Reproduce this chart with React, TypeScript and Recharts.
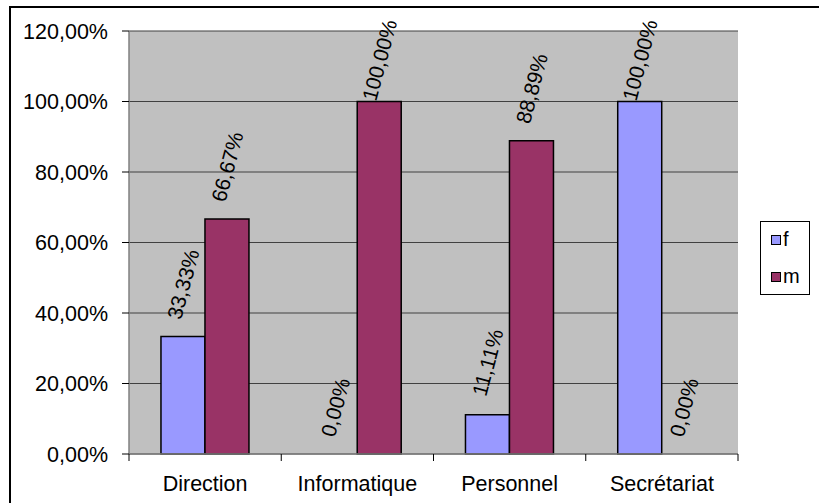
import React from 'react';
import { BarChart, Bar, XAxis, YAxis, CartesianGrid, ReferenceDot } from 'recharts';

const departments = ['Direction', 'Informatique', 'Personnel', 'Secrétariat'];
const femmes = [33.33, 0, 11.11, 100];
const hommes = [66.67, 100, 88.89, 0];
const yTicks = [0, 20, 40, 60, 80, 100, 120];

const SERIES = [
  { key: 'f', values: femmes, color: '#9999ff' },
  { key: 'm', values: hommes, color: '#993366' },
];

const W = 819;
const H = 503;
const MARGIN = { top: 31, right: 81, bottom: 0, left: 0 };
const Y_AXIS_W = 129;
const X_AXIS_H = 49;
const BAND = (W - MARGIN.right - Y_AXIS_W) / departments.length;
const CAT_GAP = 0.21;
const BAR_W = (BAND * (1 - 2 * CAT_GAP)) / SERIES.length;

const FONT = '"Liberation Sans", Arial, sans-serif';
const TICK_SIZE = 21.5;
const LABEL_SIZE = 21;
const ANGLE = 75;

const data = departments.map((name, i) => {
  const row: Record<string, string | number> = { name };
  SERIES.forEach((s) => (row[s.key] = s.values[i]));
  return row;
});

const fmt = (v: number) => v.toFixed(2).replace('.', ',') + '%';

// rough Arial advance widths, in em
const CHAR_W: Record<string, number> = { ',': 0.278, '%': 0.889 };
const textWidth = (s: string, size: number) =>
  s.split('').reduce((acc, c) => acc + (CHAR_W[c] ?? 0.556), 0) * size;

// rotated value label, sat above the top of its bar
function ValueLabel({ cx, top, value }: { cx: number; top: number; value: number }) {
  const text = fmt(value);
  const rad = (ANGLE * Math.PI) / 180;
  const half =
    (textWidth(text, LABEL_SIZE) * Math.sin(rad) + 0.72 * LABEL_SIZE * Math.cos(rad)) / 2;
  // keep the label inside the chart area (excel pushes the 100% ones down)
  const cy = Math.max(top - 16 - half, 18 + half);
  return (
    <text
      x={cx}
      y={cy}
      transform={`rotate(-${ANGLE} ${cx} ${cy})`}
      textAnchor="middle"
      dominantBaseline="central"
      fontFamily={FONT}
      fontSize={LABEL_SIZE}
      fill="#000"
    >
      {text}
    </text>
  );
}

function CategoryTick(props: any) {
  const { x, y, payload, index } = props;
  const last = index === departments.length - 1;
  return (
    <g>
      <line x1={x - BAND / 2} y1={y} x2={x - BAND / 2} y2={y + 7} stroke="#000" />
      {last && <line x1={x + BAND / 2} y1={y} x2={x + BAND / 2} y2={y + 7} stroke="#000" />}
      <text x={x} y={y + 37} textAnchor="middle" fontFamily={FONT} fontSize={TICK_SIZE} fill="#000">
        {payload.value}
      </text>
    </g>
  );
}

function Legend() {
  return (
    <div
      style={{
        position: 'absolute',
        left: 760,
        top: 221,
        width: 50,
        height: 74,
        boxSizing: 'border-box',
        border: '1px solid #000',
        background: '#fff',
        fontFamily: FONT,
        fontSize: 20,
        lineHeight: '20px',
      }}
    >
      {SERIES.map((s, i) => (
        <div key={s.key}>
          <div
            style={{
              position: 'absolute',
              left: 10,
              top: 13 + i * 37,
              width: 10,
              height: 10,
              boxSizing: 'border-box',
              border: '1.5px solid #000',
              background: s.color,
            }}
          />
          <span style={{ position: 'absolute', left: 22, top: 7 + i * 37, color: '#000' }}>
            {s.key}
          </span>
        </div>
      ))}
    </div>
  );
}

export default function App() {
  return (
    <div
      style={{
        position: 'absolute',
        left: 0,
        top: 0,
        width: W,
        height: H,
        overflow: 'hidden',
        background: '#fff',
      }}
    >
      <div
        style={{
          position: 'absolute',
          left: 9,
          top: 6,
          width: W + 20,
          height: H + 20,
          borderTop: '2px solid #000',
          borderLeft: '2px solid #000',
        }}
      />
      <div style={{ position: 'absolute', left: 0, top: 0 }}>
        <BarChart
          width={W}
          height={H}
          data={data}
          margin={MARGIN}
          barCategoryGap={`${CAT_GAP * 100}%`}
          barGap={0}
        >
          <CartesianGrid vertical={false} fill="#c0c0c0" stroke="#404040" strokeWidth={1.2} />
          <XAxis
            dataKey="name"
            height={X_AXIS_H}
            axisLine={{ stroke: '#808080', strokeWidth: 1.5 }}
            tickLine={false}
            tickSize={0}
            tickMargin={0}
            interval={0}
            tick={<CategoryTick />}
          />
          <YAxis
            width={Y_AXIS_W}
            domain={[0, 120]}
            ticks={yTicks}
            interval={0}
            tickFormatter={fmt}
            axisLine={{ stroke: '#808080', strokeWidth: 1.5 }}
            tickLine={{ stroke: '#000' }}
            tickSize={7}
            tickMargin={14}
            tick={{ fill: '#000', fontSize: TICK_SIZE, fontFamily: FONT }}
          />
          <YAxis
            yAxisId="frame"
            orientation="right"
            width={0}
            domain={[0, 120]}
            tick={false}
            tickLine={false}
            axisLine={{ stroke: '#808080', strokeWidth: 1.5 }}
          />
          {SERIES.map((s) => (
            <Bar
              key={s.key}
              dataKey={s.key}
              fill={s.color}
              stroke="#000"
              strokeWidth={1.5}
              isAnimationActive={false}
            />
          ))}
          {SERIES.flatMap((s, si) =>
            departments.map((d, i) => (
              <ReferenceDot
                key={`${s.key}-${d}`}
                x={d}
                y={s.values[i]}
                r={0}
                ifOverflow="visible"
                shape={(p: any) => (
                  <ValueLabel
                    cx={p.cx + (si - (SERIES.length - 1) / 2) * BAR_W}
                    top={p.cy}
                    value={s.values[i]}
                  />
                )}
              />
            ))
          )}
        </BarChart>
      </div>
      <Legend />
    </div>
  );
}
